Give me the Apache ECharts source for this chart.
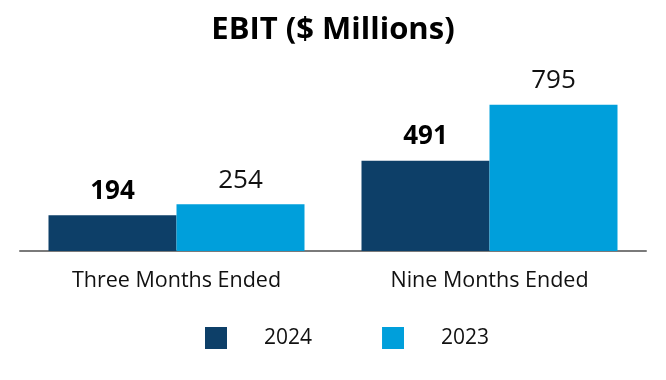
<!DOCTYPE html>
<html>
<head>
<meta charset="utf-8">
<script src="https://cdn.jsdelivr.net/npm/echarts@6/dist/echarts.min.js"></script>
<style>html,body{margin:0;padding:0;background:#fff;}#c{width:666px;height:380px;}</style>
</head>
<body>
<div id="c"></div>
<script>
const categories = ['Three Months Ended', 'Nine Months Ended'];
const seriesNames = ['2024', '2023'];
const values2024 = [194, 491];
const values2023 = [254, 795];

const chart = echarts.init(document.getElementById('c'), null, {renderer: 'canvas'});
const font = '"Open Sans", "Noto Sans", sans-serif';
chart.setOption({
  animation: false,
  backgroundColor: '#ffffff',
  title: {
    text: 'EBIT ($ Millions)',
    left: 'center',
    top: 15,
    padding: 0,
    textStyle: {fontFamily: font, fontWeight: 'bold', fontSize: 31, color: '#000'}
  },
  legend: {
    data: seriesNames,
    bottom: 31,
    left: 205,
    padding: 0,
    itemWidth: 22,
    itemHeight: 22,
    itemGap: 70,
    icon: 'rect',
    textStyle: {fontFamily: font, fontSize: 21, color: '#111', padding: [0, 0, 0, 32]}
  },
  grid: {left: 20, right: 20, top: 67, bottom: 129, containLabel: false},
  xAxis: {
    type: 'category',
    data: categories,
    axisLine: {lineStyle: {color: '#7a7a7a', width: 2}},
    axisTick: {show: false},
    axisLabel: {fontFamily: font, fontSize: 21.5, color: '#111', margin: 19}
  },
  yAxis: {
    type: 'value',
    min: 0,
    max: 1000,
    show: false,
    splitLine: {show: false}
  },
  series: [
    {
      name: '2024',
      type: 'bar',
      data: values2024,
      barWidth: 128,
      barGap: '0%',
      itemStyle: {color: '#0d3f68'},
      label: {show: true, position: 'top', distance: 11, fontFamily: font, fontSize: 26, fontWeight: 'bold', color: '#000'}
    },
    {
      name: '2023',
      type: 'bar',
      data: values2023,
      barWidth: 128,
      barGap: '0%',
      itemStyle: {color: '#009fdb'},
      label: {show: true, position: 'top', distance: 11, fontFamily: font, fontSize: 26, color: '#111'}
    }
  ]
});
</script>
</body>
</html>
